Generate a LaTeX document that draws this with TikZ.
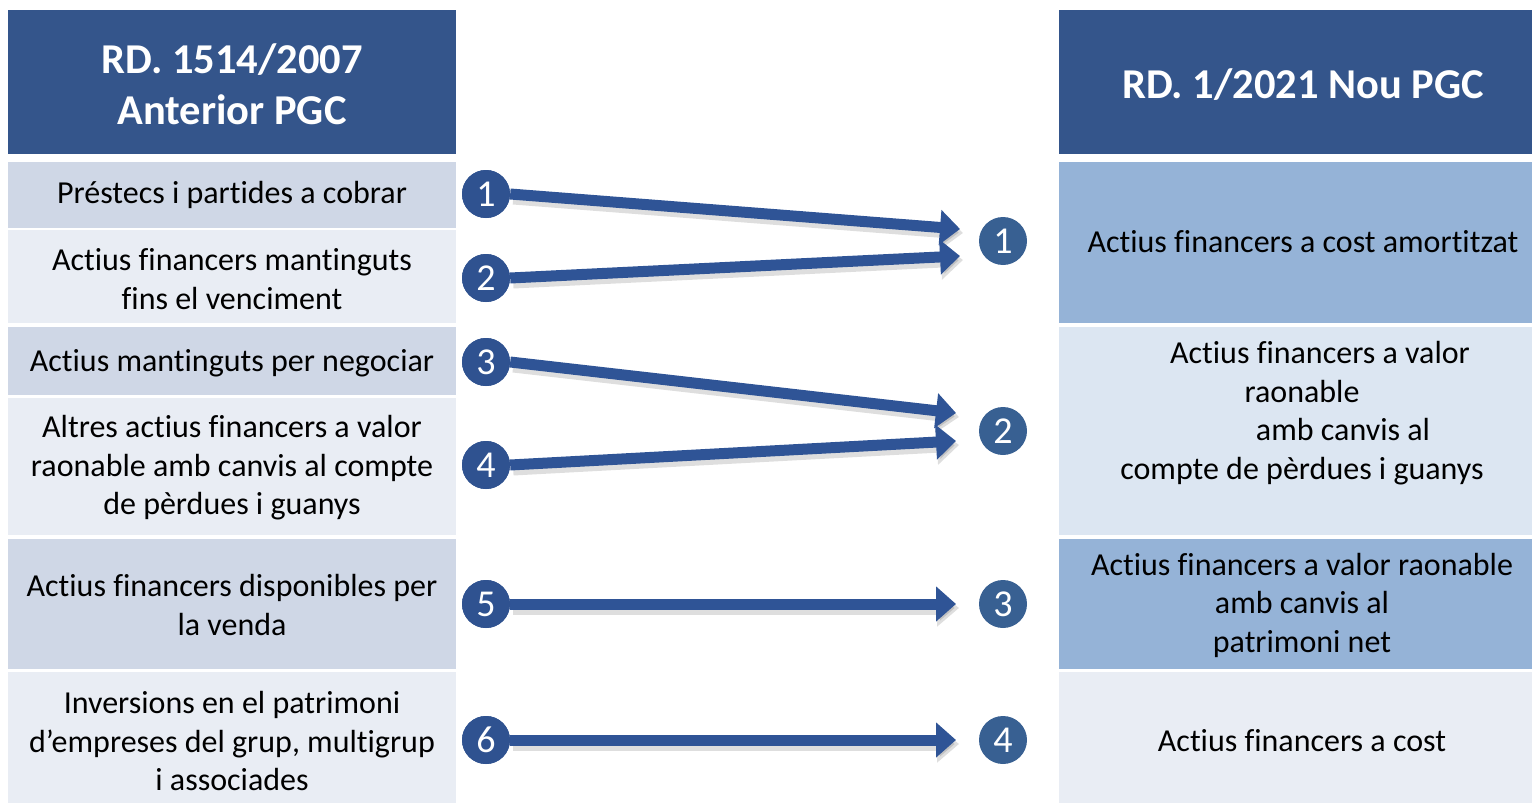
\documentclass[tikz,border=0pt]{standalone}
\usepackage{fontspec}
\setmainfont{Carlito}[Ligatures={NoCommon}]
\usetikzlibrary{arrows.meta}
\definecolor{hdr}{HTML}{34558B}
\definecolor{rowA}{HTML}{CFD7E6}
\definecolor{rowB}{HTML}{E9EDF4}
\definecolor{rowC}{HTML}{95B3D7}
\definecolor{rowD}{HTML}{DCE6F2}
\definecolor{circL}{HTML}{2F5290}
\definecolor{circR}{HTML}{386092}
\definecolor{arr}{HTML}{2F5496}
\tikzset{
  box/.style={anchor=north west, inner sep=0pt, outer sep=0pt},
  txt/.style={align=center, font=\fontsize{32}{38.5}\selectfont, text=black, inner sep=0pt},
  htxt/.style={align=center, font=\fontsize{42.5}{51}\selectfont\bfseries, text=white, inner sep=0pt},
  num/.style={circle, fill=circL, text=white, minimum size=48pt, inner sep=0pt, font=\fontsize{38}{38}\selectfont},
  numr/.style={num, fill=circR},
  conn/.style={arr, line width=11pt, -{Triangle[width=34pt,length=20pt]}},
  shad/.style={black, opacity=0.13, line width=13pt, -{Triangle[width=36pt,length=22pt]}}
}
\begin{document}
\begin{tikzpicture}[x=1pt,y=-1pt]
\useasboundingbox (0,0) rectangle (1532,803);
% left column
\node[box, fill=hdr, minimum width=448pt, minimum height=144pt] (lh) at (8,10) {};
\node[box, fill=rowA, minimum width=448pt, minimum height=66pt] (lb1) at (8,162) {};
\node[box, fill=rowB, minimum width=448pt, minimum height=93pt] (lb2) at (8,230) {};
\node[box, fill=rowA, minimum width=448pt, minimum height=68pt] (lb3) at (8,327) {};
\node[box, fill=rowB, minimum width=448pt, minimum height=137pt] (lb4) at (8,398) {};
\node[box, fill=rowA, minimum width=448pt, minimum height=130pt] (lb5) at (8,539) {};
\node[box, fill=rowB, minimum width=448pt, minimum height=131pt] (lb6) at (8,672) {};
% right column
\node[box, fill=hdr, minimum width=473pt, minimum height=144pt] (rh) at (1059,10) {};
\node[box, fill=rowC, minimum width=473pt, minimum height=161pt] (rb1) at (1059,162) {};
\node[box, fill=rowD, minimum width=473pt, minimum height=208pt] (rb2) at (1059,327) {};
\node[box, fill=rowC, minimum width=473pt, minimum height=130pt] (rb3) at (1059,539) {};
\node[box, fill=rowB, minimum width=473pt, minimum height=131pt] (rb4) at (1059,672) {};
% header texts
\node[htxt] (lht) at (232,84) {RD. 1514/2007\\Anterior PGC};
\node[htxt] (rht) at (1303,85) {RD. 1/2021 Nou PGC};
% left texts
\node[txt] (lt1) at (232,195) {Préstecs i partides a cobrar};
\node[txt] (lt2) at (232,279) {Actius financers mantinguts\\fins el venciment};
\node[txt] (lt3) at (232,363) {Actius mantinguts per negociar};
\node[txt] (lt4) at (232,468) {Altres actius financers a valor\\raonable amb canvis al compte\\de pèrdues i guanys};
\node[txt] (lt5) at (232,605) {Actius financers disponibles per\\la venda};
\node[txt] (lt6) at (232,741) {Inversions en el patrimoni\\d’empreses del grup, multigrup\\i associades};
% right texts
\node[txt] (rt1) at (1303,242) {Actius financers a cost amortitzat};
\node[txt] (rt2) at (1302,413) {\hspace*{36pt}Actius financers a valor\\raonable\\\hspace*{82pt}amb canvis al\\compte de pèrdues i guanys};
\node[txt] (rt3) at (1302,605) {Actius financers a valor raonable\\amb canvis al\\patrimoni net};
\node[txt] (rt4) at (1302,741) {Actius financers a cost};
% circles
\node[num] (l1) at (486,194) {1};
\node[num] (l2) at (486,278) {2};
\node[num] (l3) at (486,362) {3};
\node[num] (l4) at (486,465) {4};
\node[num] (l5) at (486,604) {5};
\node[num] (l6) at (486,740) {6};
\node[numr] (r1) at (1003,241) {1};
\node[numr] (r2) at (1003,431) {2};
\node[numr] (r3) at (1003,604) {3};
\node[numr] (r4) at (1003,740) {4};
% arrow tips
\coordinate (t1) at (960,229);
\coordinate (t2) at (960,256);
\coordinate (t3) at (956,413);
\coordinate (t4) at (956,441);
\coordinate (t5) at (956,604);
\coordinate (t6) at (956,740);
% shadows
\foreach \a/\b in {l1/t1,l2/t2,l3/t3,l4/t4,l5/t5,l6/t6}{
  \draw[shad, transform canvas={xshift=3pt,yshift=-4pt}] (\a.east) -- (\b);
}
% arrows
\draw[conn] (l1.east) -- (t1);
\draw[conn] (l2.east) -- (t2);
\draw[conn] (l3.east) -- (t3);
\draw[conn] (l4.east) -- (t4);
\draw[conn] (l5.east) -- (t5);
\draw[conn] (l6.east) -- (t6);
% redraw left circles on top
\node[num] at (l1) {1};
\node[num] at (l2) {2};
\node[num] at (l3) {3};
\node[num] at (l4) {4};
\node[num] at (l5) {5};
\node[num] at (l6) {6};
\end{tikzpicture}
\end{document}
